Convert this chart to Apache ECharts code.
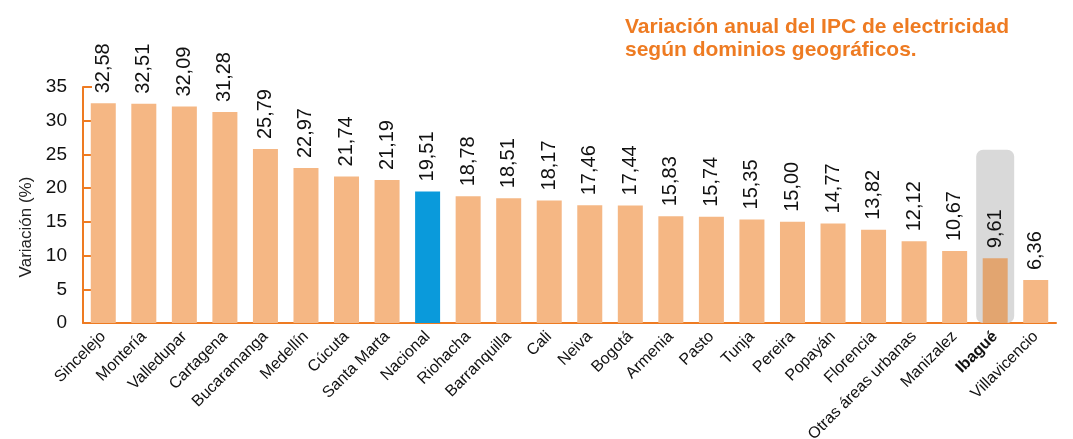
<!DOCTYPE html>
<html><head><meta charset="utf-8">
<script src="https://cdn.jsdelivr.net/npm/echarts@6/dist/echarts.min.js"></script>
<style>html,body{margin:0;padding:0;background:#fff}#c{width:1073px;height:439px}</style>
</head><body><div id="c"></div>
<script>
const categories = ["Sincelejo","Montería","Valledupar","Cartagena","Bucaramanga","Medellín","Cúcuta","Santa Marta","Nacional","Riohacha","Barranquilla","Cali","Neiva","Bogotá","Armenia","Pasto","Tunja","Pereira","Popayán","Florencia","Otras áreas urbanas","Manizalez","Ibagué","Villavicencio"];
const values = [32.58,32.51,32.09,31.28,25.79,22.97,21.74,21.19,19.51,18.78,18.51,18.17,17.46,17.44,15.83,15.74,15.35,15.00,14.77,13.82,12.12,10.67,9.61,6.36];
const yTicks = [0,5,10,15,20,25,30,35];
const nationalName = "Nacional";
const highlightName = "Ibagué";
const highlightBoxValue = 25.7;

const ORANGE = '#EE7B22';
const BAR = '#F5B784';
const FONT = 'Liberation Sans, Arial, sans-serif';

const chart = echarts.init(document.getElementById('c'));
const barData = values.map((v,i)=>{
  const c = categories[i];
  let color = BAR;
  if (c === nationalName) color = '#0A9ADB';
  if (c === highlightName) color = '#E2A570';
  return {value: v, itemStyle: {color}};
});
const boxData = categories.map(c => c === highlightName ? highlightBoxValue : '-');

chart.setOption({
  animation: false,
  title: {
    text: 'Variación anual del IPC de electricidad\nsegún dominios geográficos.',
    left: 620, top: 11,
    textStyle: {color: ORANGE, fontFamily: FONT, fontWeight: 'bold', fontSize: 21, lineHeight: 23}
  },
  grid: {left: 83, right: 17, top: 87, bottom: 116, containLabel: false, outerBoundsMode: 'none'},
  xAxis: [{
    type: 'category', data: categories,
    axisLine: {lineStyle: {color: ORANGE, width: 2}},
    axisTick: {show: false},
    axisLabel: {
      rotate: 45, interval: 0, margin: 11, color: '#111', fontFamily: FONT, fontSize: 16,
      formatter: v => v === highlightName ? '{b|' + v + '}' : v,
      rich: {b: {fontWeight: 'bold', fontSize: 16, fontFamily: FONT, color: '#111'}}
    }
  },{
    type: 'category', data: categories, show: false, position: 'bottom'
  }],
  yAxis: {
    type: 'value', min: 0, max: 35, interval: 5,
    name: 'Variación (%)', nameLocation: 'middle', nameGap: 47,
    nameTextStyle: {color: '#222', fontFamily: FONT, fontSize: 17, padding: [0, 44, 0, 0]},
    axisLine: {show: true, lineStyle: {color: ORANGE, width: 2}},
    axisTick: {show: true, inside: true, length: 9, lineStyle: {color: ORANGE, width: 2}},
    splitLine: {show: false},
    axisLabel: {color: '#111', fontFamily: FONT, fontSize: 19, margin: 16,
      formatter: v => yTicks.includes(v) ? String(v) : ''}
  },
  series: [{
    type: 'bar', xAxisIndex: 1, data: boxData, barWidth: 38, z: 1,
    itemStyle: {color: '#D9D9D9', borderRadius: 7}, silent: true
  },{
    type: 'bar', xAxisIndex: 0, data: barData, barWidth: 25, z: 2,
    label: {
      show: true, position: 'top', rotate: 90, align: 'left', verticalAlign: 'middle',
      distance: 10, color: '#111', fontFamily: FONT, fontSize: 20,
      formatter: p => p.value.toFixed(2).replace('.', ',')
    }
  }]
});
</script></body></html>
